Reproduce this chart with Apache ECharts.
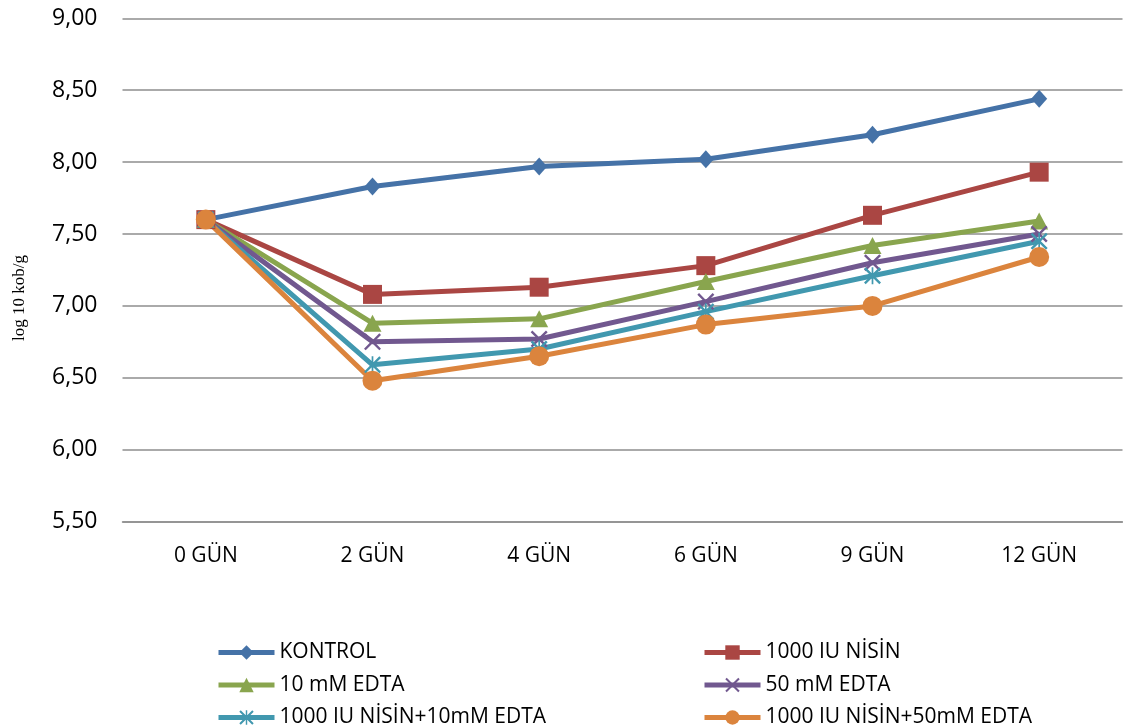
<!DOCTYPE html>
<html>
<head>
<meta charset="utf-8">
<script src="https://cdn.jsdelivr.net/npm/echarts@6/dist/echarts.min.js"></script>
<style>html,body{margin:0;padding:0;background:#fff}#c{width:1123px;height:727px}</style>
</head>
<body>
<div id="c"></div>
<script>
const categories = ['0 GÜN', '2 GÜN', '4 GÜN', '6 GÜN', '9 GÜN', '12 GÜN'];
const seriesNames = ['KONTROL', '1000 IU NİSİN', '10 mM EDTA', '50 mM EDTA', '1000 IU NİSİN+10mM EDTA', '1000 IU NİSİN+50mM EDTA'];
const kontrol   = [7.60, 7.83, 7.97, 8.02, 8.19, 8.44];
const nisin     = [7.60, 7.08, 7.13, 7.28, 7.63, 7.93];
const edta10    = [7.60, 6.88, 6.91, 7.17, 7.42, 7.59];
const edta50    = [7.60, 6.75, 6.77, 7.03, 7.30, 7.50];
const nisinE10  = [7.60, 6.59, 6.70, 6.96, 7.21, 7.45];
const nisinE50  = [7.60, 6.48, 6.65, 6.87, 7.00, 7.34];
const yAxisTitle = 'log 10 kob/g';

const colors = ['#4572A7', '#AA4643', '#89A54E', '#71588F', '#4198AF', '#DB843D'];
const X_PATH = 'path://M0,2 L2,0 L10,8 L18,0 L20,2 L12,10 L20,18 L18,20 L10,12 L2,20 L0,18 L8,10 Z';
const STAR_PATH = 'path://M0,2 L2,0 L10,8 L18,0 L20,2 L12,10 L20,18 L18,20 L10,12 L2,20 L0,18 L8,10 Z M9,0 L11,0 L11,20 L9,20 Z';
const symbols = ['diamond', 'rect', 'triangle', X_PATH, STAR_PATH, 'circle'];
const symbolSizes = [[16, 18], 19, [18, 17], 17, 17, 20];
const dataSets = [kontrol, nisin, edta10, edta50, nisinE10, nisinE50];

const chart = echarts.init(document.getElementById('c'));
const legendText = { fontFamily: 'Open Sans', fontSize: 21, lineHeight: 18, color: '#000' };
const legendBase = {
  orient: 'vertical', top: 642, height: 90, padding: 0,
  itemWidth: 56, itemHeight: 18, itemGap: 11.5, textStyle: legendText,
  lineStyle: { width: 5 }
};
chart.setOption({
  animation: false,
  color: colors,
  grid: { left: 122.5, right: 0.5, top: 18.3, bottom: 205.4 },
  xAxis: {
    type: 'category',
    data: categories,
    boundaryGap: true,
    axisLine: { show: true, lineStyle: { color: '#8e8e8e', width: 1.5 } },
    axisTick: { show: false },
    axisLabel: { margin: 24, fontFamily: 'Open Sans', fontSize: 21, color: '#000' }
  },
  yAxis: {
    type: 'value',
    min: 5.5, max: 9, interval: 0.5,
    axisLine: { show: false },
    axisTick: { show: false },
    splitLine: { lineStyle: { color: '#8e8e8e', width: 1.5 } },
    axisLabel: {
      margin: 25, fontFamily: 'Open Sans', fontSize: 23, color: '#000',
      formatter: v => v.toFixed(2).replace('.', ',')
    }
  },
  graphic: [{
    type: 'text',
    x: 20, y: 298,
    rotation: Math.PI / 2,
    style: {
      text: yAxisTitle,
      font: '17px "Liberation Serif", serif',
      fill: '#000',
      align: 'center',
      verticalAlign: 'middle'
    }
  }],
  legend: [
    Object.assign({}, legendBase, { data: [seriesNames[0], seriesNames[2], seriesNames[4]], left: 216 }),
    Object.assign({}, legendBase, { data: [seriesNames[1], seriesNames[3], seriesNames[5]], left: 702 })
  ],
  series: dataSets.map((d, i) => ({
    name: seriesNames[i],
    type: 'line',
    data: d,
    symbol: symbols[i],
    symbolSize: symbolSizes[i],
    showAllSymbol: true,
    lineStyle: { width: 5, color: colors[i] },
    itemStyle: { color: colors[i] }
  }))
});
</script>
</body>
</html>
